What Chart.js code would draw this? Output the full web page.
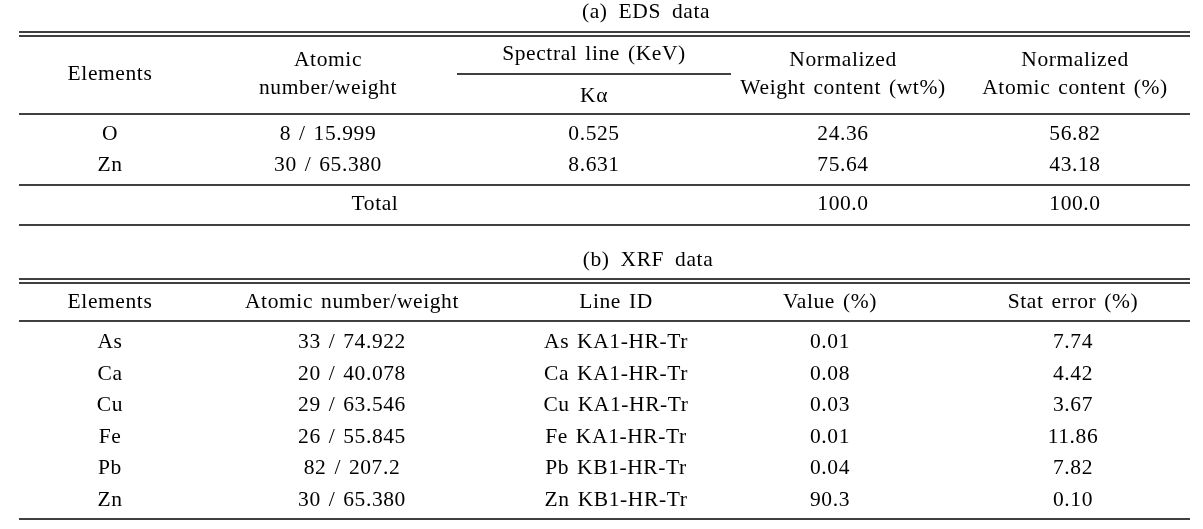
<!DOCTYPE html>
<html lang="en">
<head>
    <meta charset="UTF-8">
    <title>EDS / XRF data</title>
    <style>
        body { margin: 0; background: #fff; }
    </style>
</head>
<body>
    <canvas id="myChart" width="1203" height="529"></canvas>

    <script src="https://cdn.jsdelivr.net/npm/chart.js"></script>
    <script>
        // (a) EDS data
        const edsTitle = '(a) EDS data'
        const edsElements = ['O', 'Zn']
        const edsAtomic = ['8 / 15.999', '30 / 65.380']
        const edsKalpha = ['0.525', '8.631']
        const edsWeight = ['24.36', '75.64']
        const edsAtomicContent = ['56.82', '43.18']
        const edsTotal = ['Total', '100.0', '100.0']

        // (b) XRF data
        const xrfTitle = '(b) XRF data'
        const xrfHeaders = ['Elements', 'Atomic number/weight', 'Line ID', 'Value (%)', 'Stat error (%)']
        const xrfElements = ['As', 'Ca', 'Cu', 'Fe', 'Pb', 'Zn']
        const xrfAtomic = ['33 / 74.922', '20 / 40.078', '29 / 63.546', '26 / 55.845', '82 / 207.2', '30 / 65.380']
        const xrfLineId = ['As KA1-HR-Tr', 'Ca KA1-HR-Tr', 'Cu KA1-HR-Tr', 'Fe KA1-HR-Tr', 'Pb KB1-HR-Tr', 'Zn KB1-HR-Tr']
        const xrfValue = ['0.01', '0.08', '0.03', '0.01', '0.04', '90.3']
        const xrfError = ['7.74', '4.42', '3.67', '11.86', '7.82', '0.10']

        // layout (scale units = pixels of the page)
        const edsCols = [110, 328, 594, 843, 1075]
        const xrfCols = [110, 352, 616, 830, 1073]
        const edsRows = [134, 165]
        const xrfRows = [342, 374, 405, 437, 468, 500]
        const left = 19, right = 1190

        const tablePlugin = {
            id: 'table',
            afterDraw(chart) {
                const c = chart.ctx
                const x = v => chart.scales.x.getPixelForValue(v)
                const y = v => chart.scales.y.getPixelForValue(v)
                c.save()
                c.fillStyle = '#000'
                c.strokeStyle = '#000'
                c.font = '21.5px "Liberation Serif", "DejaVu Serif", serif'
                c.letterSpacing = '0.6px'
                c.wordSpacing = '2px'
                c.textAlign = 'center'
                c.textBaseline = 'middle'

                const txt = (s, cx, cy) => c.fillText(s, x(cx), y(cy))
                const line = (x1, x2, yy, w) => {
                    c.lineWidth = w || 1.5
                    c.beginPath()
                    c.moveTo(x(x1), y(yy))
                    c.lineTo(x(x2), y(yy))
                    c.stroke()
                }

                // table (a)
                c.wordSpacing = '5px'
                txt(edsTitle, 646, 12)
                c.wordSpacing = '2px'
                line(left, right, 32)
                line(left, right, 36)
                txt('Elements', edsCols[0], 74)
                txt('Atomic', edsCols[1], 60)
                txt('number/weight', edsCols[1], 88)
                txt('Spectral line (KeV)', edsCols[2], 54)
                line(457, 731, 74)
                txt('Kα', edsCols[2], 96)
                txt('Normalized', edsCols[3], 60)
                txt('Weight content (wt%)', edsCols[3], 88)
                txt('Normalized', edsCols[4], 60)
                txt('Atomic content (%)', edsCols[4], 88)
                line(left, right, 114)
                edsRows.forEach((r, i) => {
                    txt(edsElements[i], edsCols[0], r)
                    txt(edsAtomic[i], edsCols[1], r)
                    txt(edsKalpha[i], edsCols[2], r)
                    txt(edsWeight[i], edsCols[3], r)
                    txt(edsAtomicContent[i], edsCols[4], r)
                })
                line(left, right, 185)
                txt(edsTotal[0], 375, 204)
                txt(edsTotal[1], edsCols[3], 204)
                txt(edsTotal[2], edsCols[4], 204)
                line(left, right, 225)

                // table (b)
                c.wordSpacing = '5px'
                txt(xrfTitle, 648, 260)
                c.wordSpacing = '2px'
                line(left, right, 279)
                line(left, right, 283)
                xrfHeaders.forEach((h, i) => txt(h, xrfCols[i], 302))
                line(left, right, 321)
                xrfRows.forEach((r, i) => {
                    txt(xrfElements[i], xrfCols[0], r)
                    txt(xrfAtomic[i], xrfCols[1], r)
                    txt(xrfLineId[i], xrfCols[2], r)
                    txt(xrfValue[i], xrfCols[3], r)
                    txt(xrfError[i], xrfCols[4], r)
                })
                line(left, right, 519)
                c.restore()
            }
        }

        const chart = new Chart(document.getElementById('myChart'), {
            type: 'scatter',
            data: { datasets: [{ data: [], pointRadius: 0 }] },
            options: {
                responsive: false,
                animation: false,
                layout: { padding: 0 },
                plugins: { legend: { display: false }, tooltip: { enabled: false } },
                scales: {
                    x: { type: 'linear', min: 0, max: 1203, display: false },
                    y: { type: 'linear', min: 0, max: 529, reverse: true, display: false }
                }
            },
            plugins: [tablePlugin]
        })
    </script>
</body>
</html>
